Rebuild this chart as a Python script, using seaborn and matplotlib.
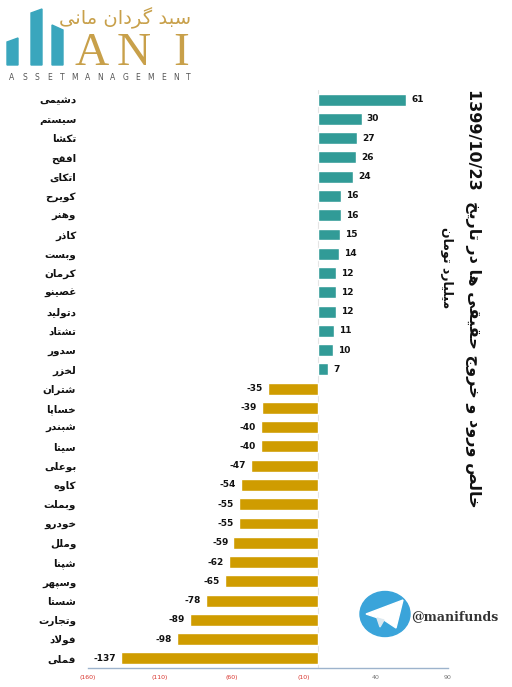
import matplotlib
matplotlib.use("Agg")
import matplotlib.pyplot as plt
import seaborn as sns
import numpy as np
from matplotlib.patches import Polygon, Ellipse

# نمادها و خالص ورود/خروج حقیقی (میلیارد تومان)
symbols = ["دشیمی", "سیستم", "تکشا", "افقح", "اتکای", "کویرح", "وهنر", "کاذر",
           "وبست", "کرمان", "غصینو", "دتولید", "تشتاد", "سدور", "لخزر",
           "شتران", "خساپا", "شبندر", "سیتا", "بوعلی", "کاوه", "وبملت",
           "خودرو", "وملل", "شپنا", "وسپهر", "شستا", "وتجارت", "فولاد", "فملی"]
net_flow = [61, 30, 27, 26, 24, 16, 16, 15, 14, 12, 12, 12, 11, 10, 7,
            -35, -39, -40, -40, -47, -54, -55, -55, -59, -62, -65, -78, -89, -98, -137]
tick_values = [-160, -110, -60, -10, 40, 90]
tick_labels = ["(160)", "(110)", "(60)", "(10)", "40", "90"]
title_text = "خالص ورود و خروج حقیقی ها در تاریخ"
title_date = "1399/10/23"
unit_text = "میلیارد تومان"

# matplotlib حروف عربی را نمی‌چسباند، پس شکل‌ها را دستی می‌سازیم
BASE = {'ا': 0xFE8D, 'ب': 0xFE8F, 'پ': 0xFB56, 'ت': 0xFE95, 'ث': 0xFE99,
        'ج': 0xFE9D, 'چ': 0xFB7A, 'ح': 0xFEA1, 'خ': 0xFEA5, 'د': 0xFEA9,
        'ذ': 0xFEAB, 'ر': 0xFEAD, 'ز': 0xFEAF, 'ژ': 0xFB8A, 'س': 0xFEB1,
        'ش': 0xFEB5, 'ص': 0xFEB9, 'ض': 0xFEBD, 'ط': 0xFEC1, 'ظ': 0xFEC5,
        'ع': 0xFEC9, 'غ': 0xFECD, 'ف': 0xFED1, 'ق': 0xFED5, 'ک': 0xFB8E,
        'گ': 0xFB92, 'ل': 0xFEDD, 'م': 0xFEE1, 'ن': 0xFEE5, 'و': 0xFEED,
        'ه': 0xFEE9, 'ی': 0xFBFC}
RIGHT_ONLY = set('اآدذرزژو')


def shape(text):
    chars = list(text)
    out = []
    i = 0
    while i < len(chars):
        c = chars[i]
        if c not in BASE:
            out.append(c)
            i += 1
            continue
        prev = chars[i - 1] if i > 0 else None
        joins_prev = prev in BASE and prev not in RIGHT_ONLY
        if c == 'ل' and i + 1 < len(chars) and chars[i + 1] == 'ا':
            out.append(chr(0xFEFC if joins_prev else 0xFEFB))
            i += 2
            continue
        nxt = chars[i + 1] if i + 1 < len(chars) else None
        joins_next = c not in RIGHT_ONLY and nxt in BASE
        if joins_prev and joins_next:
            off = 3
        elif joins_prev:
            off = 1
        elif joins_next:
            off = 2
        else:
            off = 0
        out.append(chr(BASE[c] + off))
        i += 1
    return ''.join(reversed(out))


sns.set_theme(style="white")
plt.rcParams['font.family'] = ['DejaVu Sans']

fig = plt.figure(figsize=(5.12, 6.87), dpi=100)
ax = fig.add_axes([88 / 512, 1 - 668 / 687, 360 / 512, 578 / 687])

labels = [shape(s) for s in symbols]
sign = ["pos" if v > 0 else "neg" for v in net_flow]
sns.barplot(x=net_flow, y=labels, hue=sign, palette={"pos": "#319b97", "neg": "#cf9c00"},
            dodge=False, legend=False, width=0.62, saturation=1, ax=ax)

ax.axvline(0, color="#e4e4e4", lw=0.8, zorder=0)
for i, v in enumerate(net_flow):
    ax.text(v + (3.5 if v > 0 else -3.5), i, f"{v}", ha="left" if v > 0 else "right",
            va="center", fontsize=6.5, fontweight="bold", color="#111111")

ax.set_xlim(-160, 90)
ax.set_ylim(len(net_flow) - 0.5, -0.5)
ax.set_xticks(tick_values)
ax.set_xticklabels(tick_labels, fontsize=4.5)
for t, v in zip(ax.get_xticklabels(), tick_values):
    t.set_color("#d9352e" if v < 0 else "#777777")
ax.tick_params(axis="x", length=0, pad=5)
ax.tick_params(axis="y", length=0, pad=8.5, labelsize=7.5)
for t in ax.get_yticklabels():
    t.set_fontweight("bold")
    t.set_color("#111111")
for s in ["top", "right", "left"]:
    ax.spines[s].set_visible(False)
ax.spines["bottom"].set_color("#9db3cc")
ax.spines["bottom"].set_linewidth(1)
ax.set_xlabel("")
ax.set_ylabel("")

# عنوان عمودی
fig.text(473 / 512, 1 - 298 / 687, title_date + "  " + shape(title_text), rotation=-90,
         ha="center", va="center", fontsize=11.5, fontweight="bold", color="#111111")
fig.text(446 / 512, 1 - 268 / 687, shape(unit_text), rotation=-90,
         ha="center", va="center", fontsize=9, fontweight="bold", color="#111111")

# لوگو و آیکون تلگرام در مختصات پیکسلی
ov = fig.add_axes([0, 0, 1, 1], zorder=5)
ov.set_xlim(0, 512)
ov.set_ylim(687, 0)
ov.axis("off")
teal = "#3aa6bd"
gold = "#c8a04a"
ov.add_patch(Polygon([(7, 65), (7, 42), (18, 38), (18, 65)], color=teal))
ov.add_patch(Polygon([(31, 65), (31, 13), (42, 9), (42, 65)], color=teal))
ov.add_patch(Polygon([(52, 65), (52, 25), (63, 30), (63, 65)], color=teal))
for ch, cx in zip("ANI", [92, 134, 181]):
    ov.text(cx, 65, ch, ha="center", va="baseline", fontsize=34,
            family="Liberation Serif", color=gold)
ov.text(125, 18, shape("سبد گردان مانی"), ha="center", va="center", fontsize=14,
        color=gold)
for k, ch in enumerate("ASSETMANAGEMENT"):
    ov.text(12 + k * 12.6, 78, ch, ha="center", va="center", fontsize=5.5, color="#555555")

ov.add_patch(Ellipse((385, 614), 50, 45, color="#3aa4da"))
ov.add_patch(Polygon([(366, 614), (403, 600), (396, 628), (384, 620)], color="white"))
ov.add_patch(Polygon([(377, 618), (384, 620), (380, 627)], color="#dde9f0"))
ov.text(411, 617, "@manifunds", ha="left", va="center", fontsize=9,
        family="DejaVu Serif", fontweight="bold", color="#333333")

fig.savefig("out.png", dpi=100)
